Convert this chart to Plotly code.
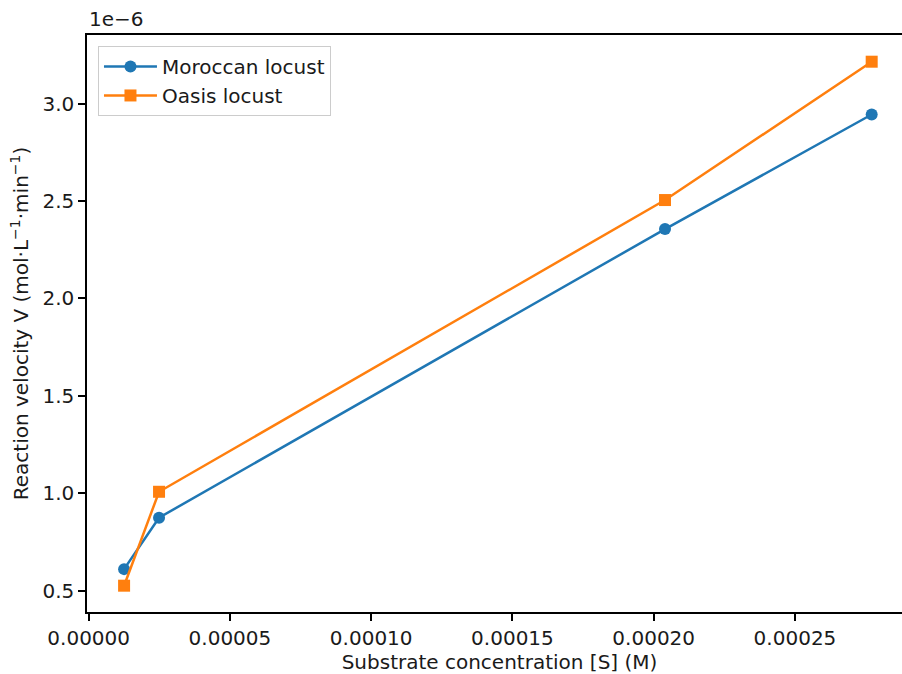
import plotly.graph_objects as go

# Substrate concentration [S] (M)
substrate = [1.253e-5, 2.49e-5, 2.04e-4, 2.7715e-4]
# Reaction velocities, in units of 1e-6 mol·L⁻¹·min⁻¹
v_moroccan = [0.611, 0.875, 2.356, 2.944]
v_oasis = [0.526, 1.008, 2.505, 3.215]

x_ticks = [0.0, 0.00005, 0.00010, 0.00015, 0.00020, 0.00025]
x_ticktext = ["0.00000", "0.00005", "0.00010", "0.00015", "0.00020", "0.00025"]
y_ticks = [0.5, 1.0, 1.5, 2.0, 2.5, 3.0]
y_ticktext = ["0.5", "1.0", "1.5", "2.0", "2.5", "3.0"]

FONT = "DejaVu Sans"
FS = 20
TXT = "#1a1a1a"

fig = go.Figure()
fig.add_trace(go.Scatter(
    x=substrate, y=v_moroccan, mode="lines+markers", name="Moroccan locust",
    line=dict(color="#1f77b4", width=2.5),
    marker=dict(symbol="circle", size=12, color="#1f77b4"),
))
fig.add_trace(go.Scatter(
    x=substrate, y=v_oasis, mode="lines+markers", name="Oasis locust",
    line=dict(color="#ff7f0e", width=2.5),
    marker=dict(symbol="square", size=12, color="#ff7f0e"),
))

axis_common = dict(
    showline=True, linecolor="black", linewidth=1.5,
    ticks="outside", ticklen=7, tickwidth=1.5, tickcolor="black",
    showgrid=False, zeroline=False,
    tickfont=dict(family=FONT, size=FS, color=TXT),
)

fig.update_layout(
    width=912, height=674,
    margin=dict(l=87, r=0, t=35, b=62),
    paper_bgcolor="white", plot_bgcolor="white",
    font=dict(family=FONT, size=FS, color=TXT),
    xaxis=dict(
        range=[-6.0e-7, 2.9142e-4],
        tickvals=x_ticks, ticktext=x_ticktext, mirror=True,
        title=dict(text="Substrate concentration [S] (M)", standoff=9,
                   font=dict(family=FONT, size=FS, color=TXT)),
        **axis_common,
    ),
    yaxis=dict(
        range=[0.391, 3.352],
        tickvals=y_ticks, ticktext=y_ticktext, mirror=False,
        title=dict(text="Reaction velocity V (mol·L<sup>−1</sup>·min<sup>−1</sup>)", standoff=8,
                   font=dict(family=FONT, size=FS, color=TXT)),
        **axis_common,
    ),
    legend=dict(
        x=0.0133, y=0.981, xanchor="left", yanchor="top",
        bgcolor="rgba(255,255,255,0.8)", bordercolor="#cccccc", borderwidth=1,
        font=dict(family=FONT, size=FS, color=TXT),
        tracegroupgap=0, itemwidth=53,
    ),
    showlegend=True,
)

fig.add_annotation(
    text="1e−6", xref="paper", yref="paper", x=0, y=1, xanchor="left",
    yanchor="bottom", showarrow=False, yshift=2,
    font=dict(family=FONT, size=FS, color=TXT),
)

fig.write_html(
    "out.html",
    config={"displayModeBar": False},
    post_script="document.body.style.margin='0';"
                "document.documentElement.style.overflow='hidden';"
                "document.body.style.overflow='hidden';",
)
